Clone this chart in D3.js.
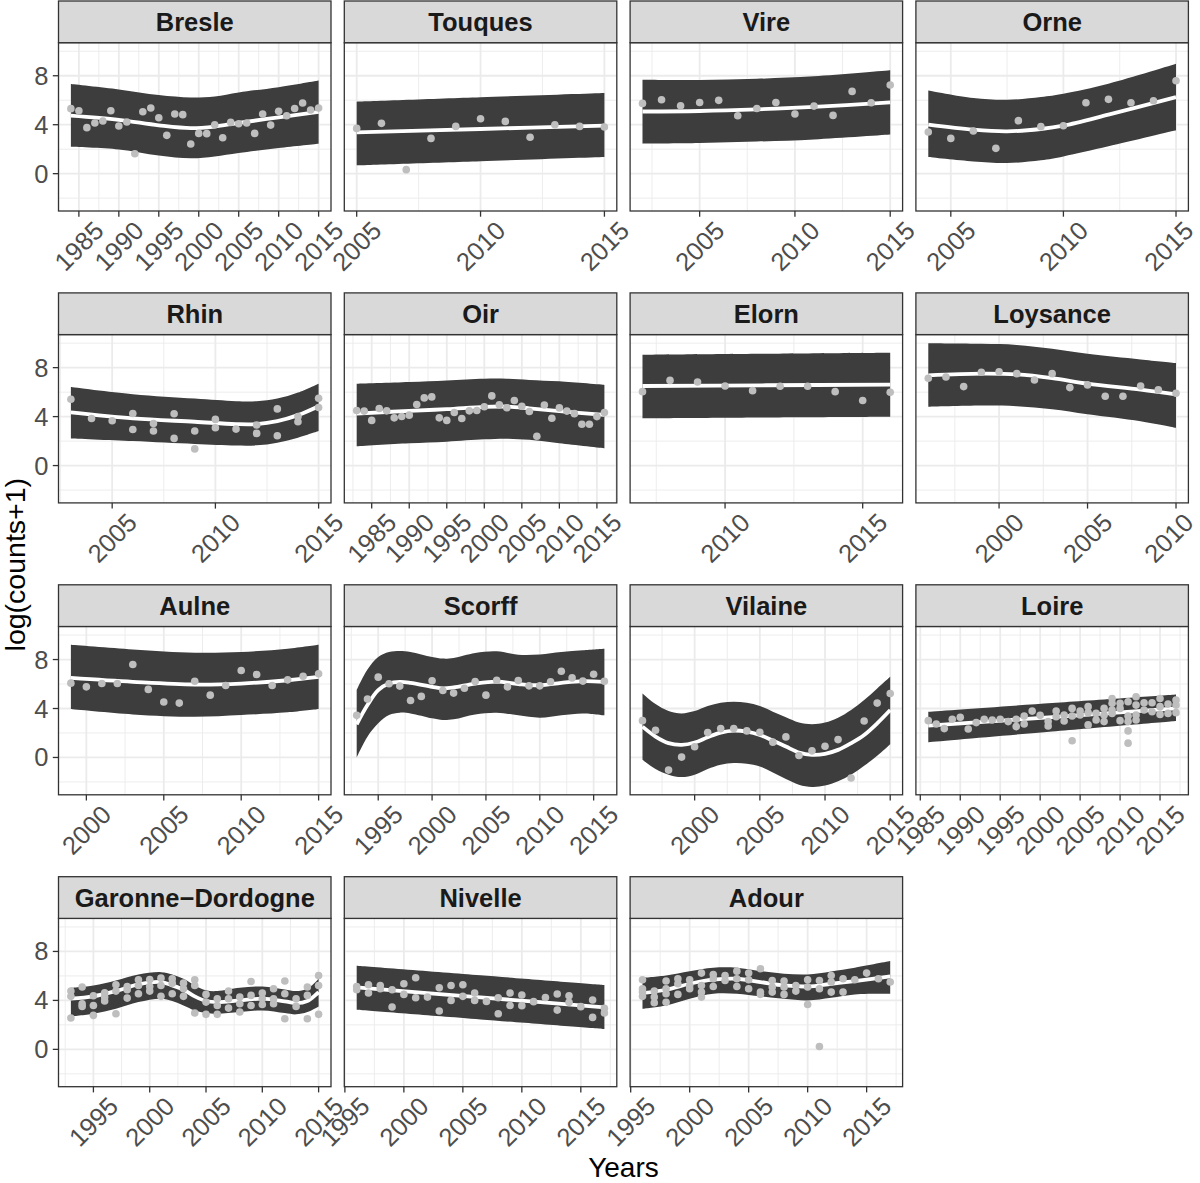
<!DOCTYPE html>
<html>
<head>
<meta charset="utf-8">
<script src="https://cdn.jsdelivr.net/npm/d3@7"></script>
<style>
  body { margin: 0; background: #ffffff; }
  text { font-family: "Liberation Sans", Arial, Helvetica, sans-serif; }
</style>
</head>
<body>
<svg id="chart" width="1200" height="1183"></svg>
<script>
// facet order (left to right, top to bottom)
var rivers = ["Bresle", "Touques", "Vire", "Orne",
              "Rhin", "Oir", "Elorn", "Loysance",
              "Aulne", "Scorff", "Vilaine", "Loire",
              "Garonne\u2212Dordogne", "Nivelle", "Adour"];

// observed log(counts+1), one row per year: [year, value, value, ...]
var ptsBresle = [[1984,5.31],[1985,5.14],[1986,3.76],[1987,4.14],[1988,4.30],[1989,5.14],[1990,3.89],[1991,4.22],
  [1992,1.63],[1993,5.06],[1994,5.36],[1995,4.57],[1996,3.13],[1997,4.87],[1998,4.82],[1999,2.42],[2000,3.29],
  [2001,3.27],[2002,4.0],[2003,2.94],[2004,4.19],[2005,4.08],[2006,4.14],[2007,3.29],[2008,4.87],[2009,3.97],
  [2010,5.09],[2011,4.73],[2012,5.33],[2013,5.77],[2014,5.2],[2015,5.36]];
var ptsTouques = [[2005,3.70],[2006,4.11],[2007,0.33],[2008,2.88],[2009,3.86],[2010,4.49],[2011,4.27],[2012,2.97],
  [2013,4.0],[2014,3.86],[2015,3.81]];
var ptsVire = [[2002,5.74],[2003,6.04],[2004,5.55],[2005,5.82],[2006,5.99],[2007,4.73],[2008,5.33],[2009,5.82],
  [2010,4.87],[2011,5.52],[2012,4.76],[2013,6.72],[2014,5.80],[2015,7.24]];
var ptsOrne = [[2004,3.40],[2005,2.88],[2006,3.48],[2007,2.07],[2008,4.33],[2009,3.84],[2010,3.92],[2011,5.80],
  [2012,6.07],[2013,5.80],[2014,5.96],[2015,7.59]];
var ptsRhin = [[2003,5.42],[2004,3.85],[2005,3.66],[2006,4.25,2.95],[2007,3.44,2.82],[2008,4.23,2.22],[2009,2.82,1.36],
  [2010,3.77,3.09],[2011,2.98],[2012,3.31,2.63],[2013,4.63,2.44],[2014,4.01,3.58],[2015,5.50,4.74]];
var ptsOir = [[1983,4.5],[1984,4.45],[1985,3.69],[1986,4.66],[1987,4.47],[1988,3.9],[1989,4.01],[1990,4.12],
  [1991,4.99],[1992,5.53],[1993,5.61],[1994,3.9],[1995,3.69],[1996,4.34],[1997,3.85],[1998,4.47],[1999,4.5],
  [2000,4.8],[2001,5.69],[2002,4.96],[2003,4.72],[2004,5.31],[2005,4.85],[2006,4.42],[2007,2.4],[2008,4.95],
  [2009,3.87],[2010,4.71],[2011,4.45],[2012,4.24],[2013,3.38],[2014,3.38],[2015,4.0],[2016,4.33]];
var ptsElorn = [[2007,6.04],[2008,6.96],[2009,6.83],[2010,6.5],[2011,6.12],[2012,6.48],[2013,6.48],[2014,6.04],
  [2015,5.31],[2016,5.99]];
var ptsLoysance = [[1996,7.13],[1997,7.24],[1998,6.45],[1999,7.62],[2000,7.67],[2001,7.51],[2002,6.99],[2003,7.51],
  [2004,6.37],[2005,6.59],[2006,5.66],[2007,5.66],[2008,6.5],[2009,6.18],[2010,5.91]];
var ptsAulne = [[1999,6.07],[2000,5.77],[2001,6.04],[2002,6.04],[2003,7.59],[2004,5.56],[2005,4.53],[2006,4.44],
  [2007,6.23],[2008,5.09],[2009,5.88],[2010,7.1],[2011,6.78],[2012,5.88],[2013,6.34],[2014,6.64],[2015,6.83]];
var ptsScorff = [[1993,3.44],[1994,4.77],[1995,6.56],[1996,6.02],[1997,5.83],[1998,4.66],[1999,4.99],[2000,6.26],
  [2001,5.47],[2002,5.26],[2003,5.66],[2004,6.21],[2005,5.09],[2006,6.31],[2007,5.77],[2008,6.28],[2009,5.85],
  [2010,5.85],[2011,6.18],[2012,7.05],[2013,6.5],[2014,6.24],[2015,6.8],[2016,6.23]];
var ptsVilaine = [[1996,3.01],[1997,2.22],[1998,-1.03],[1999,0.03],[2000,0.87],[2001,2.03],[2002,2.36],[2003,2.36],
  [2004,2.17],[2005,2.06],[2006,1.25],[2007,1.68],[2008,0.16],[2009,0.54],[2010,0.92],[2011,1.46],[2012,-1.68],
  [2013,2.98],[2014,4.44],[2015,5.23]];
var ptsLoire = [[1986,3.01],[1987,2.74],[1988,2.36],[1989,3.12],[1990,3.28],[1991,2.33],[1992,2.85],[1993,3.12],
  [1994,3.06],[1995,3.12],[1996,2.93],[1997,3.12,2.52],[1998,3.39,2.74],[1999,3.79],[2000,3.44],[2001,2.93,2.57],
  [2002,3.79,3.33],[2003,3.47,2.98],[2004,4.01,3.39,1.36],[2005,3.79,3.47],[2006,4.15,3.66,2.66],[2007,3.6,3.06],
  [2008,4.01,3.47,2.93],[2009,4.82,4.42,3.88,3.6],[2010,4.42,4.01,3.01],[2011,4.55,3.39,2.93,2.17,1.17],
  [2012,4.96,4.28,3.47,3.06],[2013,4.47,3.88],[2014,4.47,3.74],[2015,4.82,4.15,3.52],[2016,4.36,3.6],
  [2017,4.69,4.28,3.66]];
var ptsGaronne = [[1993,4.76,4.33,2.56],[1994,5.09,3.73,3.51],[1995,4.38,3.59,2.78],[1996,4.63,4.27,3.95],
  [1997,5.28,4.76,2.91],[1998,5.14,4.87,4.19],[1999,5.69,5.22,4.54],[2000,5.71,5.14,4.76],[2001,5.82,5.22,4.33],
  [2002,5.77,5.41,4.54],[2003,5.41,4.95,4.33],[2004,5.69,5.22,2.97],[2005,4.49,3.86,2.86],[2006,4.14,3.59,2.86],
  [2007,4.76,4.14,3.37],[2008,4.27,3.73,3.05],[2009,5.55,4.41,3.59],[2010,4.6,4.14,3.67],[2011,4.95,4.14,3.73],
  [2012,5.58,4.54,2.5],[2013,4.14,3.51],[2014,5.09,4.41,2.5],[2015,6.04,5.22,2.86]];
var ptsNivelle = [[1996,5.14,4.87],[1997,5.28,4.6],[1998,5.22,4.95],[1999,4.87,3.46],[2000,5.36,4.49],[2001,5.85,4.22],
  [2002,4.27],[2003,5.03,3.13],[2004,5.22,4.0],[2005,5.28,4.33],[2006,4.6,4.0],[2007,3.92],[2008,4.22,2.91],
  [2009,4.6,3.59],[2010,4.44,3.57],[2011,3.9],[2012,4.24],[2013,4.52,3.21],[2014,4.38,3.84],[2015,3.49],
  [2016,4.03,2.61],[2017,3.35,2.97]];
var ptsAdour = [[1996,5.69,4.95,4.68,4.33],[1997,4.76,4.27,3.81],[1998,5.58,4.95,4.54,3.84],[1999,5.77,5.36,4.49],
  [2000,5.69,5.22,4.95],[2001,6.23,5.22,4.68,4.27],[2002,6.12,5.77,5.14],[2003,6.04,5.63],[2004,6.39,5.77,5.14],
  [2005,6.23,5.69,4.95],[2006,6.59,4.68,4.49],[2007,5.63,5.09,4.68],[2008,5.58,5.09,4.49],[2009,5.22,4.76],
  [2010,5.69,5.09,3.67],[2011,5.63,4.95,0.24],[2012,6.04,5.5,4.68],[2013,5.77,4.68],[2014,5.69],[2015,6.23],
  [2016,5.77],[2017,5.5]];

// smooth fit with band: [year, lower, fit, upper]
var fitBresle = [[1984,2.2,4.75,7.32],[1990,1.98,4.4,6.88],[1995,1.48,3.95,6.42],[1999,1.25,3.72,6.22],
  [2002,1.41,3.85,6.31],[2005,1.69,4.15,6.64],[2010,2.1,4.6,7.07],[2015,2.45,5.05,7.62]];
var fitTouques = [[2005,0.68,3.37,5.88],[2010,1.02,3.65,6.24],[2015,1.36,3.92,6.59]];
var fitVire = [[2002,2.45,5.08,7.67],[2005,2.5,5.12,7.65],[2008,2.62,5.25,7.75],[2011,2.8,5.45,7.95],[2015,3.2,5.82,8.44]];
var fitOrne = [[2004,1.36,4.0,6.8],[2006,1.0,3.59,6.18],[2007.5,0.87,3.46,6.04],[2009,1.09,3.65,6.26],
  [2010,1.41,3.92,6.53],[2012,2.23,4.82,7.35],[2015,3.54,6.26,8.98]];
var fitRhin = [[2003,2.22,4.34,6.42],[2006,2.0,3.85,5.83],[2009,1.76,3.58,5.47],[2011,1.63,3.39,5.26],
  [2012,1.65,3.39,5.26],[2013,1.87,3.63,5.47],[2014,2.28,4.12,5.96],[2015,2.82,4.85,6.69]];
var fitOir = [[1983,1.57,4.25,6.69],[1990,1.82,4.47,6.83],[1995,1.95,4.61,6.96],[2000,2.14,4.8,7.1],
  [2003,2.2,4.82,7.1],[2006,2.1,4.68,7.0],[2010,1.82,4.45,6.88],[2016,1.41,4.14,6.59]];
var fitElorn = [[2007,3.85,6.5,9.05],[2011.5,3.92,6.56,9.13],[2016,3.98,6.61,9.21]];
var fitLoysance = [[1996,4.8,7.37,10.0],[1999,4.9,7.51,9.95],[2001,4.85,7.45,9.86],[2003,4.61,7.15,9.54],
  [2005,4.2,6.69,9.13],[2008,3.63,6.2,8.67],[2010,3.09,5.82,8.37]];
var fitAulne = [[1999,3.96,6.5,9.21],[2003,3.52,6.18,8.83],[2007,3.33,5.96,8.56],[2010,3.47,6.04,8.62],
  [2013,3.69,6.31,8.89],[2015,3.96,6.59,9.21]];
var fitScorff = [[1993,0.0,2.71,5.5],[1994,1.7,4.28,7.18],[1995,2.79,5.5,8.21],[1996,3.47,6.04,8.62],
  [1997,3.66,6.18,8.7],[1998,3.6,6.1,8.62],[2000,3.2,5.77,8.21],[2001,3.06,5.64,8.08],[2002,3.12,5.72,8.13],
  [2004,3.52,6.04,8.54],[2006,3.66,6.2,8.67],[2008,3.44,6.0,8.4],[2010,3.25,5.9,8.42],[2012,3.45,6.1,8.61],
  [2014,3.6,6.24,8.75],[2016,3.44,6.18,8.88]];
var fitVilaine = [[1996,-0.19,2.52,5.23],[1997,-0.95,1.71,4.36],[1998,-1.41,1.17,3.79],[1999,-1.6,1.03,3.6],
  [2000,-1.41,1.22,3.79],[2001,-0.95,1.65,4.2],[2002,-0.6,2.03,4.47],[2003,-0.46,2.2,4.55],[2004,-0.51,2.11,4.47],
  [2005,-0.73,1.84,4.2],[2006,-1.22,1.38,3.74],[2007,-1.76,0.89,3.28],[2008,-2.22,0.41,2.85],[2009,-2.41,0.22,2.71],
  [2010,-2.3,0.3,2.85],[2011,-1.95,0.62,3.25],[2012,-1.41,1.17,3.88],[2013,-0.68,1.84,4.69],[2014,0.14,2.79,5.64],
  [2015,1.08,3.88,6.59]];
var fitLoire = [[1986,1.25,2.6,3.74],[2001.5,2.12,3.3,4.45],[2017,2.98,4.01,5.15]];
var fitGaronne = [[1993,2.69,4.14,5.03],[1995,2.91,4.33,5.22],[1997,3.32,4.76,5.63],[1999,3.86,5.31,6.12],
  [2001,4.14,5.5,6.31],[2002,3.95,5.22,6.12],[2003,3.59,4.87,5.77],[2004,3.18,4.33,5.22],[2005,2.97,3.95,4.82],
  [2006,2.91,3.86,4.76],[2008,3.05,4.0,5.03],[2010,3.18,4.14,5.14],[2012,2.97,3.92,4.9],[2013,2.86,3.78,4.76],
  [2014,3.05,3.95,4.95],[2015,3.51,4.68,5.77]];
var fitNivelle = [[1996,3.24,5.06,6.83],[2006.5,2.45,4.25,6.05],[2017,1.66,3.43,5.26]];
var fitAdour = [[1996,3.32,4.6,5.85],[1998,3.59,4.87,6.04],[2000,4.14,5.36,6.39],[2002,4.54,5.69,6.67],
  [2004,4.54,5.77,6.67],[2006,4.33,5.5,6.39],[2008,4.14,5.22,6.18],[2010,4.0,5.14,6.12],[2012,4.22,5.36,6.37],
  [2014,4.49,5.58,6.67],[2017,4.54,5.96,7.21]];

// y axis (shared by every facet)
var yDomain = [-3.05, 10.7];
var yTicks = [0, 4, 8];
var yMinor = [-2, 2, 6, 10];

var panels = {};
[ptsBresle, ptsTouques, ptsVire, ptsOrne, ptsRhin, ptsOir, ptsElorn, ptsLoysance,
 ptsAulne, ptsScorff, ptsVilaine, ptsLoire, ptsGaronne, ptsNivelle, ptsAdour].forEach(function(p, i) {
    panels[rivers[i]] = { pts: p };
});
[fitBresle, fitTouques, fitVire, fitOrne, fitRhin, fitOir, fitElorn, fitLoysance,
 fitAulne, fitScorff, fitVilaine, fitLoire, fitGaronne, fitNivelle, fitAdour].forEach(function(f, i) {
    panels[rivers[i]].fit = f;
});

// layout
var W = 1200, H = 1183;
var left0 = 58.5, top0 = 42.7;
var panelW = 272.5, panelH = 168.3, gapX = 13.3, pitchY = 291.9;
var stripH = 41.7;
var axisFont = 25.5;

var svg = d3.select("#chart");

svg.append("rect").attr("width", W).attr("height", H).attr("fill", "#ffffff");

/*
 * draws one facet: strip, grid, ribbon, fit line, points and axes
 */
function renderPanel(name, idx) {
    var col = idx % 4, row = Math.floor(idx / 4);
    var x0 = left0 + col * (panelW + gapX);
    var y0 = top0 + row * pitchY;
    var d = panels[name];

    var pts = [];
    d.pts.forEach(function(r) {
        r.slice(1).forEach(function(v) { pts.push([r[0], v]); });
    });

    // free x scale with ggplot-like 5% expansion
    var ext = d3.extent(pts, function(p) { return p[0]; });
    var pad = (ext[1] - ext[0]) * 0.05;
    var x = d3.scaleLinear().domain([ext[0] - pad, ext[1] + pad]).range([0, panelW]);
    var y = d3.scaleLinear().domain(yDomain).range([panelH, 0]);

    var lo = x.domain()[0], hi = x.domain()[1];
    var majors = d3.range(Math.ceil(lo / 5) * 5, hi + 1e-9, 5);
    var minors = majors.map(function(m) { return m - 2.5; });
    minors.push(majors[majors.length - 1] + 2.5);
    minors = minors.filter(function(m) { return m > lo && m < hi; });

    var g = svg.append("g").attr("transform", "translate(" + x0 + "," + y0 + ")");

    g.append("rect")
        .attr("width", panelW).attr("height", panelH)
        .attr("fill", "#ffffff");

    var clipId = "clip" + idx;
    g.append("clipPath").attr("id", clipId)
        .append("rect").attr("width", panelW).attr("height", panelH);

    var grid = g.append("g").attr("clip-path", "url(#" + clipId + ")");

    // minor then major grid lines
    grid.selectAll(".ymin").data(yMinor).enter().append("line")
        .attr("x1", 0).attr("x2", panelW)
        .attr("y1", function(v) { return y(v); }).attr("y2", function(v) { return y(v); })
        .style("stroke", "#ebebeb").style("stroke-width", 0.9);
    grid.selectAll(".xmin").data(minors).enter().append("line")
        .attr("y1", 0).attr("y2", panelH)
        .attr("x1", function(v) { return x(v); }).attr("x2", function(v) { return x(v); })
        .style("stroke", "#ebebeb").style("stroke-width", 0.9);
    grid.selectAll(".ymaj").data(yTicks).enter().append("line")
        .attr("x1", 0).attr("x2", panelW)
        .attr("y1", function(v) { return y(v); }).attr("y2", function(v) { return y(v); })
        .style("stroke", "#ebebeb").style("stroke-width", 1.8);
    grid.selectAll(".xmaj").data(majors).enter().append("line")
        .attr("y1", 0).attr("y2", panelH)
        .attr("x1", function(v) { return x(v); }).attr("x2", function(v) { return x(v); })
        .style("stroke", "#ebebeb").style("stroke-width", 1.8);

    var curve = d3.curveCatmullRom.alpha(0.5);

    // band
    grid.append("path")
        .datum(d.fit)
        .attr("d", d3.area().curve(curve)
            .x(function(r) { return x(r[0]); })
            .y0(function(r) { return y(r[1]); })
            .y1(function(r) { return y(r[3]); }))
        .attr("fill", "#3d3d3d");

    // fitted line
    grid.append("path")
        .datum(d.fit)
        .attr("d", d3.line().curve(curve)
            .x(function(r) { return x(r[0]); })
            .y(function(r) { return y(r[2]); }))
        .attr("fill", "none")
        .style("stroke", "#ffffff")
        .style("stroke-width", 3.8);

    grid.selectAll("circle").data(pts).enter().append("circle")
        .attr("cx", function(p) { return x(p[0]); })
        .attr("cy", function(p) { return y(p[1]); })
        .attr("r", 3.8)
        .attr("fill", "#bebebe");

    g.append("rect")
        .attr("width", panelW).attr("height", panelH)
        .attr("fill", "none")
        .style("stroke", "#333333").style("stroke-width", 1.3);

    // strip
    g.append("rect")
        .attr("y", -stripH).attr("width", panelW).attr("height", stripH)
        .attr("fill", "#d9d9d9")
        .style("stroke", "#333333").style("stroke-width", 1.3);
    g.append("text")
        .attr("x", panelW / 2).attr("y", -stripH / 2)
        .attr("text-anchor", "middle")
        .attr("dominant-baseline", "central")
        .attr("font-size", 25.5).attr("font-weight", "bold")
        .attr("fill", "#1a1a1a")
        .text(name);

    // x axis: ticks and rotated labels
    var ax = g.append("g").attr("transform", "translate(0," + panelH + ")");
    ax.selectAll("line").data(majors).enter().append("line")
        .attr("x1", function(v) { return x(v); }).attr("x2", function(v) { return x(v); })
        .attr("y1", 0).attr("y2", 5.7)
        .style("stroke", "#333333").style("stroke-width", 1.3);
    ax.selectAll("text").data(majors).enter().append("text")
        .attr("text-anchor", "middle")
        .attr("dominant-baseline", "central")
        .attr("font-size", axisFont)
        .attr("fill", "#4d4d4d")
        .text(function(v) { return v; })
        .attr("transform", function(v) {
            // keep the rightmost labels inside the page
            var half = (this.getComputedTextLength() + axisFont * 1.15) / (2 * Math.SQRT2);
            var cx = Math.min(x0 + x(v), W - 1 - half) - x0;
            return "translate(" + cx + ",35) rotate(-45)";
        });

    // y axis only on the first column
    if (col === 0) {
        var ay = g.append("g");
        ay.selectAll("line").data(yTicks).enter().append("line")
            .attr("x1", -5.7).attr("x2", 0)
            .attr("y1", function(v) { return y(v); }).attr("y2", function(v) { return y(v); })
            .style("stroke", "#333333").style("stroke-width", 1.3);
        ay.selectAll("text").data(yTicks).enter().append("text")
            .attr("x", -10)
            .attr("y", function(v) { return y(v); })
            .attr("text-anchor", "end")
            .attr("dominant-baseline", "central")
            .attr("font-size", axisFont)
            .attr("fill", "#4d4d4d")
            .text(function(v) { return v; });
    }
}

rivers.forEach(renderPanel);

// axis titles
var areaRight = left0 + 4 * panelW + 3 * gapX;
var areaBottom = top0 + 3 * pitchY + panelH;

svg.append("text")
    .attr("x", (left0 + areaRight) / 2)
    .attr("y", 1177)
    .attr("text-anchor", "middle")
    .attr("font-size", 28)
    .attr("fill", "#000000")
    .text("Years");

svg.append("text")
    .attr("transform", "translate(25," + ((top0 + areaBottom) / 2) + ") rotate(-90)")
    .attr("text-anchor", "middle")
    .attr("font-size", 28.5)
    .attr("fill", "#000000")
    .text("log(counts+1)");
</script>
</body>
</html>
